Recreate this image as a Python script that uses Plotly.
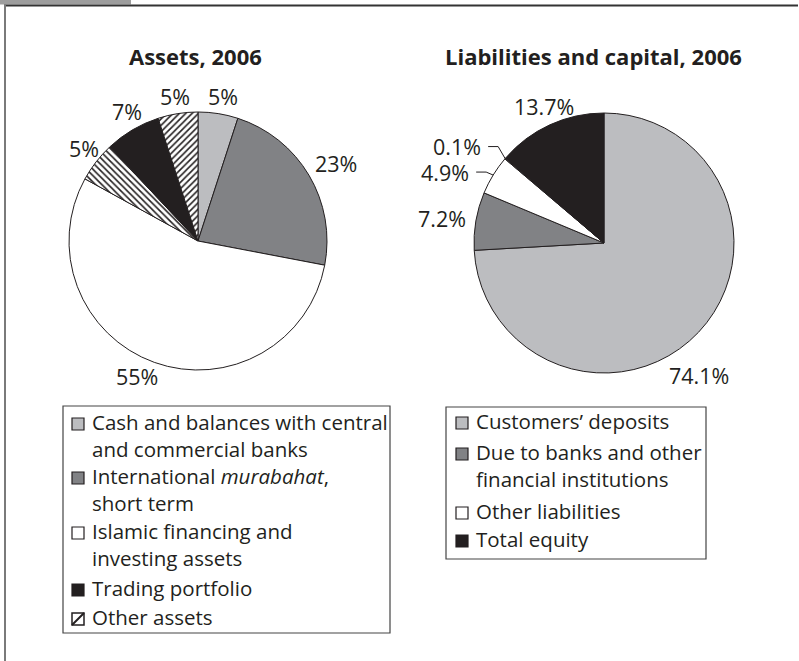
import math
import plotly.graph_objects as go

W, H = 799, 661

# ---- data ----
asset_labels = ["Cash and balances with central and commercial banks",
                "International murabahat, short term",
                "Islamic financing and investing assets",
                "Unlisted assets",
                "Trading portfolio",
                "Other assets"]
asset_values = [5, 23, 55, 5, 7, 5]
asset_text = ["5%", "23%", "55%", "5%", "7%", "5%"]
asset_colors = ["#bcbdc0", "#818285", "#ffffff", "#ffffff", "#231f20", "#ffffff"]
asset_patterns = ["", "", "", "\\", "", "/"]

liab_labels = ["Customers' deposits",
               "Due to banks and other financial institutions",
               "Other liabilities",
               "Unlisted liabilities",
               "Total equity"]
liab_values = [74.1, 7.2, 4.9, 0.1, 13.7]
liab_text = ["74.1%", "7.2%", "4.9%", "0.1%", "13.7%"]
liab_colors = ["#bcbdc0", "#818285", "#ffffff", "#bcbdc0", "#231f20"]

asset_legend_lines = [["Cash and balances with central", "and commercial banks"],
                      ["International <i>murabahat</i>,", "short term"],
                      ["Islamic financing and", "investing assets"],
                      ["Trading portfolio"],
                      ["Other assets"]]
asset_legend_fill = ["#bcbdc0", "#818285", "#ffffff", "#231f20", "hatch"]

liab_legend_lines = [["Customers\u2019 deposits"],
                     ["Due to banks and other", "financial institutions"],
                     ["Other liabilities"],
                     ["Total equity"]]
liab_legend_fill = ["#bcbdc0", "#818285", "#ffffff", "#231f20"]

# ---- style / layout parameters ----
INK = "#231f20"
FONT = "Open Sans"
LBL_SIZE = 21.5
LEG_SIZE = 20.5
TITLE_SIZE = 22

# pie geometry (pixels): centre x, centre y, radius
PIE1 = (198, 241, 129)
PIE2 = (604, 243, 130)
# per-label nudges (pixels) and leader-line flags
asset_nudge = [(2, -1), (4, -3), (-8, -2), (4, -3), (5, -4), (0, -1)]
liab_nudge = [(-26, 32), (-4, 0), None, None, (9, -3)]
liab_leader_dy = [None, None, -3, -12, None]   # label y relative to slice edge point


def px(x):
    return x / W


def py(y):
    return 1 - y / H


def text_w(t, size):
    w = 0
    for ch in t:
        if ch == "%":
            w += 0.82
        elif ch == ".":
            w += 0.27
        else:
            w += 0.572
    return w * size


fig = go.Figure()

fig.add_trace(go.Pie(
    labels=asset_labels, values=asset_values, sort=False, direction="clockwise",
    rotation=0,
    marker=dict(colors=asset_colors, line=dict(color=INK, width=1),
                pattern=dict(shape=asset_patterns, fgcolor=INK, size=4.5, solidity=0.35,
                             fillmode="replace")),
    textinfo="none",
    domain=dict(x=[px(PIE1[0] - PIE1[2]), px(PIE1[0] + PIE1[2])],
                y=[py(PIE1[1] + PIE1[2]), py(PIE1[1] - PIE1[2])]),
    showlegend=False, hoverinfo="label+value",
))

fig.add_trace(go.Pie(
    labels=liab_labels, values=liab_values, sort=False, direction="clockwise",
    rotation=0,
    marker=dict(colors=liab_colors, line=dict(color=INK, width=1)),
    textinfo="none",
    domain=dict(x=[px(PIE2[0] - PIE2[2]), px(PIE2[0] + PIE2[2])],
                y=[py(PIE2[1] + PIE2[2]), py(PIE2[1] - PIE2[2])]),
    showlegend=False, hoverinfo="label+value",
))

shapes = []
annotations = []


def slice_labels(values, texts, geom, nudges, leader_dy=None):
    cx, cy, r = geom
    total = float(sum(values))
    cum = 0.0
    for i, (v, t) in enumerate(zip(values, texts)):
        mid = (cum + v / 2) / total * 2 * math.pi
        cum += v
        ux, uy = math.sin(mid), -math.cos(mid)
        if leader_dy is not None and leader_dy[i] is not None:
            ex, ey = cx + r * ux, cy + r * uy
            ly = ey + leader_dy[i]
            elbow_x = ex - 7
            shapes.append(dict(type="path", xref="paper", yref="paper",
                               path="M %f %f L %f %f L %f %f" % (px(elbow_x - 10), py(ly), px(elbow_x), py(ly),
                                                                px(ex), py(ey)),
                               line=dict(color=INK, width=1)))
            annotations.append(dict(text=t, x=px(elbow_x - 15), y=py(ly), xref="paper", yref="paper",
                                    showarrow=False, xanchor="right", yanchor="middle",
                                    font=dict(family=FONT, size=LBL_SIZE, color=INK)))
            continue
        R = r + 6
        w = text_w(t, LBL_SIZE)
        h = LBL_SIZE
        tx = cx + R * ux + ux * w / 2
        ty = cy + R * uy + uy * h / 2
        dx, dy = nudges[i]
        annotations.append(dict(text=t, x=px(tx + dx), y=py(ty + dy), xref="paper", yref="paper",
                                showarrow=False, xanchor="center", yanchor="middle",
                                font=dict(family=FONT, size=LBL_SIZE, color=INK)))


slice_labels(asset_values, asset_text, PIE1, asset_nudge)
slice_labels(liab_values, liab_text, PIE2, liab_nudge, liab_leader_dy)

# frame
shapes.append(dict(type="rect", xref="paper", yref="paper", x0=px(0), x1=px(131),
                   y0=py(4.5), y1=py(0), fillcolor="#9d9d9d", line=dict(width=0), layer="above"))
shapes.append(dict(type="line", xref="paper", yref="paper", x0=px(4), x1=px(798),
                   y0=py(5.5), y1=py(5.5), line=dict(color="#333333", width=2)))
shapes.append(dict(type="line", xref="paper", yref="paper", x0=px(5), x1=px(5),
                   y0=py(5), y1=py(661), line=dict(color="#7a7a7a", width=2)))

# titles
annotations.append(dict(text="<b>Assets, 2006</b>", x=px(195), y=py(56), xref="paper", yref="paper",
                        showarrow=False, xanchor="center", yanchor="middle",
                        font=dict(family=FONT, size=TITLE_SIZE, color=INK)))
annotations.append(dict(text="<b>Liabilities and capital, 2006</b>", x=px(593), y=py(56), xref="paper",
                        yref="paper", showarrow=False, xanchor="center", yanchor="middle",
                        font=dict(family=FONT, size=TITLE_SIZE, color=INK)))


def legend(box, sw_x, text_x, ys, lines, fills):
    x0, y0, x1, y1 = box
    shapes.append(dict(type="rect", xref="paper", yref="paper", x0=px(x0), x1=px(x1),
                       y0=py(y1), y1=py(y0), line=dict(color="#444444", width=1.2),
                       fillcolor="rgba(0,0,0,0)"))
    for entry_y, entry_lines, fill in zip(ys, lines, fills):
        yc = entry_y + 1
        s = 6
        if fill == "hatch":
            shapes.append(dict(type="rect", xref="paper", yref="paper", x0=px(sw_x - s), x1=px(sw_x + s),
                               y0=py(yc + s), y1=py(yc - s), fillcolor="#ffffff",
                               line=dict(color=INK, width=1.5)))
            shapes.append(dict(type="line", xref="paper", yref="paper", x0=px(sw_x - s), x1=px(sw_x + s),
                               y0=py(yc + s), y1=py(yc - s), line=dict(color=INK, width=2)))
        else:
            shapes.append(dict(type="rect", xref="paper", yref="paper", x0=px(sw_x - s), x1=px(sw_x + s),
                               y0=py(yc + s), y1=py(yc - s), fillcolor=fill,
                               line=dict(color=INK, width=1.2)))
        # one annotation per entry, first line centred on entry_y
        annotations.append(dict(text="<br>".join(entry_lines), x=px(text_x), y=py(entry_y - 16),
                                xref="paper", yref="paper", borderpad=0,
                                showarrow=False, xanchor="left", yanchor="top", align="left",
                                font=dict(family=FONT, size=LEG_SIZE, color=INK)))


legend((63, 406, 390, 633), 78, 91,
       [423, 477, 532, 589, 618],
       asset_legend_lines, asset_legend_fill)
legend((446, 407, 706, 559), 462, 475,
       [422, 453, 512, 540],
       liab_legend_lines, liab_legend_fill)

fig.update_layout(
    width=W, height=H, margin=dict(l=0, r=0, t=0, b=0),
    paper_bgcolor="white", plot_bgcolor="white",
    shapes=shapes, annotations=annotations,
    font=dict(family=FONT, color=INK),
)

fig.write_html("out.html", config={"displayModeBar": False},
               post_script="document.body.style.margin='0';")
